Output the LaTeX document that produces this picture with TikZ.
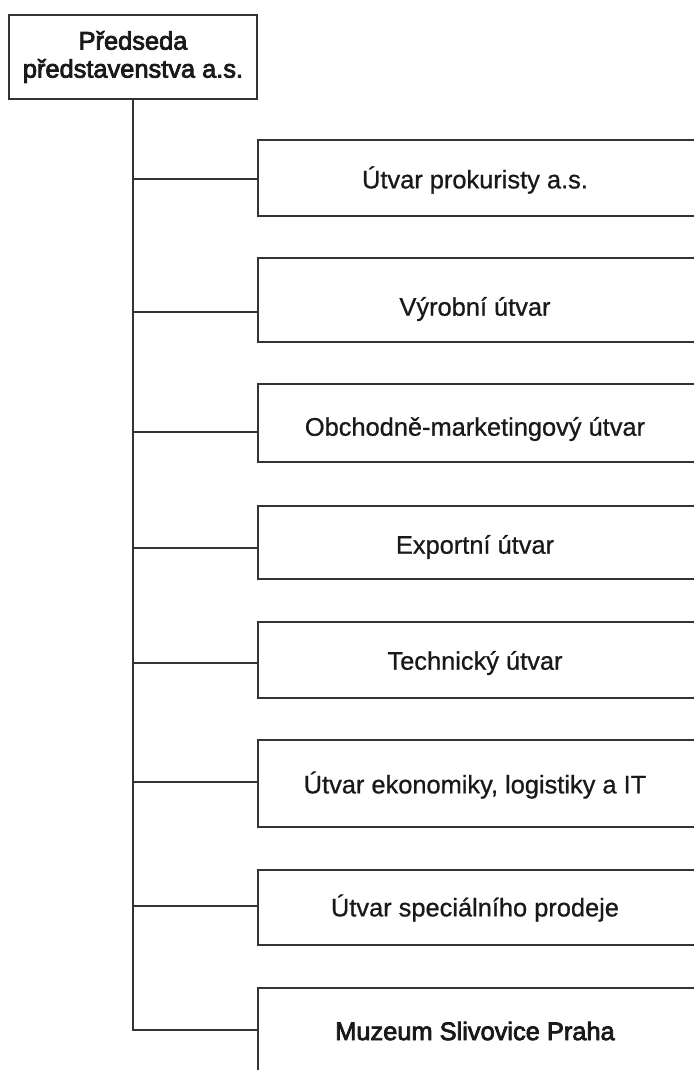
\documentclass[tikz,border=0pt]{standalone}
\usepackage{fontspec}
\setmainfont[FakeBold=0.8]{Liberation Sans}
\newfontfamily\heavyfont[FakeBold=3]{Liberation Sans}
\begin{document}
\begin{tikzpicture}[x=0.5pt,y=-0.5pt]
\tikzset{every node/.style={font=\fontsize{12.7}{14}\selectfont,text=black!90}}
\tikzset{unit/.style={draw=black!80,line width=1pt,anchor=north west,minimum width=219.5pt,inner sep=0pt}}
\tikzset{link/.style={draw=black!80,line width=1pt}}
%\tikzset{unit/.style={draw,rounded corners,
%                      minimum width=6cm
%                     }}
\useasboundingbox (0,0) rectangle (694,1070);
\clip (0,0) rectangle (694,1070);
\node[draw=black!80,line width=1pt,minimum width=124pt,minimum height=42pt,inner sep=0pt,align=center,font=\fontsize{12.7}{14}\heavyfont] (root) at (133,57) {Předseda\\představenstva a.s.};
% boxes
\node[unit,minimum height=38pt] (u1) at (257,139) {};
\node[unit,minimum height=42pt] (u2) at (257,257) {};
\node[unit,minimum height=39pt] (u3) at (257,383) {};
\node[unit,minimum height=36.5pt] (u4) at (257,505) {};
\node[unit,minimum height=38pt] (u5) at (257,621) {};
\node[unit,minimum height=43.5pt] (u6) at (257,739) {};
\node[unit,minimum height=37.5pt] (u7) at (257,869) {};
\node[unit,minimum height=50pt] (u8) at (257,987) {};
% texts
\node (t1) at (475,180) {Útvar prokuristy a.s.};
\node (t2) at (475,309) {Výrobní útvar};
\node (t3) at (475,429) {Obchodně-marketingový útvar};
\node (t4) at (475,547) {Exportní útvar};
\node (t5) at (475,663) {Technický útvar};
\node (t6) at (475,785) {Útvar ekonomiky, logistiky a IT};
\node (t7) at (475,908) {Útvar speciálního prodeje};
\node[font=\fontsize{12.7}{14}\heavyfont] (t8) at (475,1031) {Muzeum Slivovice Praha};
% tree lines
\coordinate (trunk) at (root.south);
\draw[link] (trunk) -- (trunk |- 0,1030) -- (u8.west |- 0,1030);
\draw[link] (trunk |- 0,179) -- (u1.west |- 0,179);
\draw[link] (trunk |- 0,312) -- (u2.west |- 0,312);
\draw[link] (trunk |- 0,432) -- (u3.west |- 0,432);
\draw[link] (trunk |- 0,548) -- (u4.west |- 0,548);
\draw[link] (trunk |- 0,663) -- (u5.west |- 0,663);
\draw[link] (trunk |- 0,782) -- (u6.west |- 0,782);
\draw[link] (trunk |- 0,906) -- (u7.west |- 0,906);
\end{tikzpicture}
\end{document}
